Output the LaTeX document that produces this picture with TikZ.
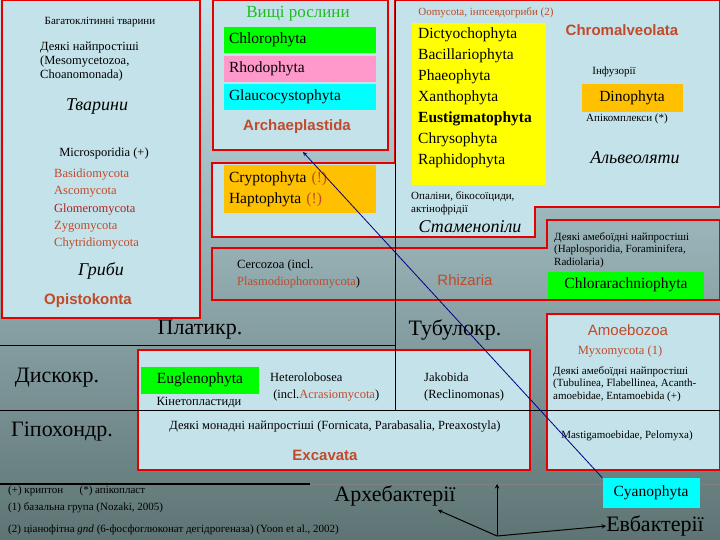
\documentclass[tikz,border=0pt]{standalone}
\usepackage{fontspec}
\setmainfont{Liberation Serif}
\newfontfamily\sansb{Liberation Sans}
\definecolor{bgtop}{HTML}{C4E2EA}
\definecolor{bgbot}{HTML}{5E7474}
\definecolor{boxfill}{HTML}{C4E2EA}
\definecolor{rbrown}{HTML}{C04A2A}
\definecolor{dred}{HTML}{B02020}
\definecolor{grn}{HTML}{22BB22}
\definecolor{cyn}{HTML}{00FFFF}
\definecolor{gr}{HTML}{00FF00}
\definecolor{pnk}{HTML}{FF99CC}
\definecolor{org}{HTML}{FFC000}
\definecolor{yel}{HTML}{FFFF00}
\begin{document}
\begin{tikzpicture}[x=1pt,y=-1pt,
  redbox/.style={draw=red!90!black,line width=2.5pt},
  tx/.style={inner sep=0pt,font=\fontsize{12.5}{14}\selectfont,align=left},
  sm/.style={inner sep=0pt,font=\fontsize{11}{12.5}\selectfont,align=left},
  big/.style={inner sep=0pt,font=\fontsize{22}{24}\selectfont},
  ital/.style={inner sep=0pt,font=\fontsize{18}{20}\selectfont\itshape},
  clade/.style={inner sep=0pt,font=\sansb\bfseries\fontsize{15}{17}\selectfont,text=rbrown},
  cbox/.style={inner sep=0pt,anchor=north west,font=\fontsize{15}{17}\selectfont,align=left},
  line/.style={draw=black,line width=0.6pt}]
\useasboundingbox (0,0) rectangle (720,540);
\shade[top color=bgtop,bottom color=bgbot] (0,0) rectangle (720,540);
% boxes
\path[redbox,fill=boxfill] (2,0) rectangle (200,318);
\path[redbox,fill=boxfill] (213,0) rectangle (388,150);
\path[redbox,fill=boxfill] (212,163) -- (395,163) -- (395,0) -- (720,0) -- (720,207) -- (535,207) -- (535,237) -- (212,237) -- cycle;
\path[redbox] (212,248) -- (547,248) -- (547,220) -- (720,220) -- (720,300) -- (212,300) -- cycle;
\path[redbox,fill=boxfill] (138,350) rectangle (530,470);
\path[redbox,fill=boxfill] (547,314) rectangle (720,470);
% lines
\draw[line] (395,0) -- (395,410);
\draw[line] (0,345) -- (395,345);
\draw[line] (0,410) -- (720,410);
\draw[line width=1.5pt] (0,484) -- (310,484);
\draw[line,draw=black!50] (310,484) -- (720,484);
% left box
\node[sm] (bt) at (100,22) {Багатоклітинні тварини};
\node[tx,anchor=west] (dn) at (40,62) {Деякі найпростіші\\(Mesomycetozoa,\\Choanomonada)};
\node[ital] (tv) at (97,107) {Тварини};
\node[tx] (mi) at (104,153) {Microsporidia (+)};
\node[tx,anchor=west,text=rbrown] (f1) at (54,175) {Basidiomycota};
\node[tx,anchor=west,text=rbrown] (f2) at (54,192) {Ascomycota};
\node[tx,anchor=west,text=dred] (f3) at (54,210) {Glomeromycota};
\node[tx,anchor=west,text=rbrown] (f4) at (54,227) {Zygomycota};
\node[tx,anchor=west,text=rbrown] (f5) at (54,244) {Chytridiomycota};
\node[ital] (gr) at (101,271) {Гриби};
\node[clade] (op) at (88,301) {Opistokonta};
% archaeplastida
\node[inner sep=0pt,font=\fontsize{17}{19}\selectfont,text=grn] (vr) at (298,14) {Вищі рослини};
\node[fill=gr,minimum width=152pt,minimum height=26pt,text width=142pt,font=\fontsize{15.5}{17}\selectfont] (ch) at (300,40) {Chlorophyta};
\node[fill=pnk,minimum width=152pt,minimum height=26pt,text width=142pt,font=\fontsize{15.5}{17}\selectfont] (rh) at (300,69) {Rhodophyta};
\node[fill=cyn,minimum width=152pt,minimum height=26pt,text width=142pt,font=\fontsize{15.5}{17}\selectfont] (gl) at (300,97) {Glaucocystophyta};
\node[clade] (ar) at (297,127) {Archaeplastida};
% crypto
\node[fill=org,minimum width=152pt,minimum height=48pt,text width=142pt,font=\fontsize{15.5}{21}\selectfont,align=left] (cr) at (300,189) {Cryptophyta \textcolor{rbrown}{(!)}\\Haptophyta \textcolor{rbrown}{(!)}};
\node[tx,anchor=west,font=\fontsize{12.5}{17}\selectfont] (ce) at (237,274) {Cercozoa (incl.\\\textcolor{rbrown}{Plasmodiophoromycota})};
% chromalveolata
\node[sm,text=rbrown] (oo) at (486,13) {Oomycota, інпсевдогриби (2)};
\node[fill=yel,minimum width=134pt,minimum height=162pt,anchor=north west] (yb) at (412,23) {};
\node[cbox,font=\fontsize{15.5}{21}\selectfont] (yl) at (418,28) {Dictyochophyta\\Bacillariophyta\\Phaeophyta\\Xanthophyta\\\textbf{Eustigmatophyta}\\Chrysophyta\\Raphidophyta};
\node[clade] (chr) at (622,30) {Chromalveolata};
\node[sm] (inf) at (614,72) {Інфузорії};
\node[fill=org,minimum width=101pt,minimum height=28pt,font=\fontsize{15.5}{17}\selectfont] (di) at (632,98) {Dinophyta};
\node[sm] (ap) at (627,119) {Апікомплекси (*)};
\node[ital] (al) at (635,158) {Альвеоляти};
\node[sm,anchor=west] (opa) at (411,203) {Опаліни, бікосоїциди,\\актінофрідії};
\node[ital] (st) at (470,227) {Стаменопіли};
% rhizaria
\node[sm,anchor=west] (am1) at (554,250) {Деякі амебоїдні найпростіші\\(Haplosporidia, Foraminifera,\\Radiolaria)};
\node[clade,font=\sansb\fontsize{15}{17}\selectfont] (rz) at (465,280) {Rhizaria};
\node[fill=gr,minimum width=156pt,minimum height=27pt,font=\fontsize{15.5}{17}\selectfont] (cl) at (626,285) {Chlorarachniophyta};
% rows
\node[big] (pl) at (200,330) {Платикр.};
\node[big] (tu) at (455,330) {Тубулокр.};
\node[big] (dk) at (57,378) {Дискокр.};
\node[big] (gp) at (62,432) {Гіпохондр.};
% amoebozoa
\node[clade,font=\sansb\fontsize{15}{17}\selectfont] (amb) at (628,330) {Amoebozoa};
\node[tx,text=rbrown] (my) at (620,352) {Myxomycota (1)};
\node[sm,anchor=west] (am2) at (553,384) {Деякі амебоїдні найпростіші\\(Tubulinea, Flabellinea, Acanth-\\amoebidae, Entamoebida (+)};
\node[sm] (ma) at (627,436) {Mastigamoebidae, Pelomyxa)};
% excavata
\node[fill=gr,minimum width=118pt,minimum height=27pt,font=\fontsize{15.5}{17}\selectfont] (eu) at (200,380) {Euglenophyta};
\node[tx] (ki) at (199,403) {Кінетопластиди};
\node[tx,anchor=west,font=\fontsize{12.5}{17}\selectfont] (he) at (270,387) {Heterolobosea\\\ (incl.\textcolor{rbrown}{Acrasiomycota})};
\node[tx,anchor=west,font=\fontsize{12.5}{17}\selectfont] (ja) at (424,387) {Jakobida\\(Reclinomonas)};
\node[tx] (mo) at (335,427) {Деякі монадні найпростіші (Fornicata, Parabasalia, Preaxostyla)};
\node[clade] (ex) at (325,455) {Excavata};
% bottom
\node[sm,anchor=west] (fn1) at (8,491) {(+) криптон \quad\ (*) апікопласт};
\node[sm,anchor=west] (fn2) at (8,508) {(1) базальна група (Nozaki, 2005)};
\node[sm,anchor=west] (fn3) at (8,530) {(2) ціанофітна \textit{gnd} (6-фосфоглюконат дегідрогеназа) (Yoon et al., 2002)};
\node[big] (ah) at (395,496) {Архебактерії};
\node[fill=cyn,minimum width=97pt,minimum height=30pt,font=\fontsize{15.5}{17}\selectfont] (cy) at (651,493) {Cyanophyta};
\node[big] (eb) at (655,526) {Евбактерії};
\coordinate (o) at (497,536);
\coordinate (up) at (497,484);
\coordinate (ae) at (438,510);
\draw[-stealth,line width=1pt] (o) -- (up);
\draw[-stealth,line width=1pt] (o) -- (ae);
\draw[-stealth,line width=1pt] (o) -- (eb.west);
\coordinate (at) at (303,152);
\draw[-stealth,draw=blue!50!black,line width=0.8pt] (cy.north west) -- (at);
\end{tikzpicture}
\end{document}
